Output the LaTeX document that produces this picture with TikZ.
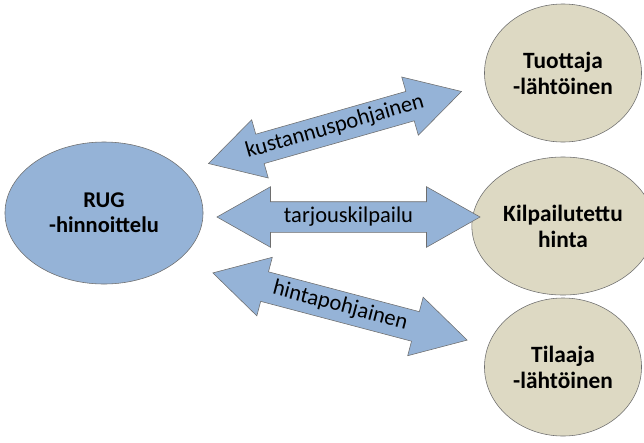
\documentclass[tikz,border=0pt]{standalone}
\usepackage{fontspec}
\setmainfont{Carlito}
\usetikzlibrary{shapes.geometric,shapes.arrows}
\definecolor{rugblue}{HTML}{95B3D7}
\definecolor{beige}{HTML}{DDD9C3}
\definecolor{edge}{HTML}{6E6E6E}
\begin{document}
\begin{tikzpicture}[x=0.025cm,y=-0.025cm,
    main/.style={ellipse,draw=edge,fill=rugblue,thin,align=center,
      font=\fontsize{16}{18}\selectfont\bfseries,minimum width=4.95cm,minimum height=3.55cm},
    side/.style={ellipse,draw=edge,fill=beige,thin,align=center,
      font=\fontsize{16.6}{18.6}\selectfont\bfseries,minimum width=3.925cm,minimum height=3.45cm},
    dbl/.style={double arrow,draw=edge,fill=rugblue,thin,
      font=\fontsize{16}{18}\selectfont,text height=11pt,text depth=3.5pt,
      inner xsep=0pt,inner ysep=0.12cm,minimum height=6.575cm,
      double arrow head extend=0.375cm,double arrow tip angle=59}]
  \useasboundingbox (0,0) rectangle (644,442);
  \node[main] (rug) at (104,213) {RUG\\-hinnoittelu};
  \node[side] (tuot) at (563,73) {Tuottaja\\-lähtöinen};
  \node[side] (kilp) at (563,226) {Kilpailutettu\\hinta};
  \node[side] (tila) at (563,367) {Tilaaja\\-lähtöinen};
  \node[dbl,rotate=15.9] (kust) at (335,127.5) {kustannuspohjainen};
  \node[dbl] (tarj) at (348.5,217) {tarjouskilpailu};
  \node[dbl,rotate=-14.8] (hint) at (340,306.5) {hintapohjainen};
\end{tikzpicture}
\end{document}
